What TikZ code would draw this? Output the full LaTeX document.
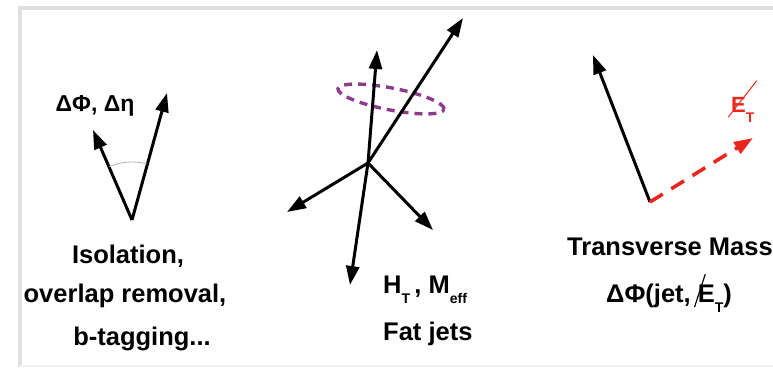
\documentclass[tikz,border=0pt]{standalone}
\usepackage{fontspec}
\setmainfont{Liberation Sans}
\usepackage{graphicx}
\usepackage{tikz}
\usetikzlibrary{
	arrows.meta,
	positioning,
	calc
}

\definecolor{metred}{HTML}{E8261E}
\definecolor{conepurple}{HTML}{8E3B8C}

\newcommand{\lowsub}[1]{\raisebox{-0.42em}{\fontsize{14}{14}\selectfont #1}}
\newcommand{\slashE}[2]{\makebox[0pt][l]{\hspace{-0.15em}\raisebox{-0.2em}{\rotatebox{#1}{\rule{#2}{0.045em}}}}E}

\begin{document}
\begin{tikzpicture}[
		x=1pt, y=1pt,
		vec/.style={-{Triangle[length=19pt, width=13pt]}, line width=3pt},
		metvec/.style={vec, color=metred, line width=3.6pt, dash pattern=on 15pt off 10pt},
		cone/.style={draw=conepurple, line width=3.4pt, dash pattern=on 8pt off 6pt},
		sep/.style={draw=gray!60, line width=0.8pt},
		frame/.style={draw=black!12, line width=4pt},
		caption/.style={inner sep=0pt, font=\fontsize{25.5}{30}\selectfont\bfseries}
		]
		\useasboundingbox (0,0) rectangle (773,367);
		
		% =========================
		% Frame
		% =========================
		\draw[frame] (20,0) -- (20,359) -- (773,359);
		\draw[black!5, line width=1.5pt] (20,1) -- (773,1);
		
		% =========================
		% Lepton pair (left)
		% =========================
		\coordinate (vtx) at (132,147);
		\coordinate (lepA) at (93,237);
		\coordinate (lepB) at (167,274);
		
		\draw[vec] (vtx) -- (lepA);
		\draw[vec] (vtx) -- (lepB);
		\draw[sep] (vtx) ++(75:58) arc[start angle=75, end angle=113, radius=58];
		
		\node[caption, font=\fontsize{23}{27}\selectfont\bfseries, anchor=base] (dphi) at (95,255) {ΔΦ, Δη};
		\node[caption, anchor=base] (iso) at (128,104) {Isolation,};
		\node[caption, anchor=base] (ovl) at (125,65) {overlap removal,};
		\node[caption, anchor=base] (btag) at (142,22) {b-tagging...};
		
		% =========================
		% Jets (middle)
		% =========================
		\coordinate (pv) at (368,204);
		\coordinate (jetA) at (377,317);
		\coordinate (jetB) at (463,349);
		\coordinate (jetC) at (287,155);
		\coordinate (jetD) at (433,137);
		\coordinate (jetE) at (350,82);
		\coordinate (ring) at (391,268);
		
		\draw[cone, rotate around={-11:(ring)}] (ring) ellipse[x radius=54, y radius=11];
		\foreach \j in {jetA,jetB,jetC,jetD,jetE}
		\draw[vec] (pv) -- (\j);
		
		\node[caption, anchor=base west] (ht) at (383,74) {H\lowsub{T}\,, M\lowsub{eff}};
		\node[caption, anchor=base west] (fat) at (383,27) {Fat jets};
		
		% =========================
		% Jet + missing E_T (right)
		% =========================
		\coordinate (jorg) at (650,165);
		\coordinate (jet) at (593,312);
		\coordinate (met) at (753,229);
		
		\draw[vec] (jorg) -- (jet);
		\draw[metvec] (jorg) -- (met);
		
		\node[caption, font=\fontsize{22}{26}\selectfont\bfseries, text=metred, anchor=base west] (metlbl) at (731,254) {\slashE{52}{2.1em}\lowsub{T}};
		\node[caption, anchor=base west] (mt) at (567,112) {Transverse Mass};
		\node[caption, anchor=base west] (dphijet) at (606,65) {ΔΦ(jet, \slashE{72}{1.35em}\lowsub{T})};
		
	\end{tikzpicture}
\end{document}
